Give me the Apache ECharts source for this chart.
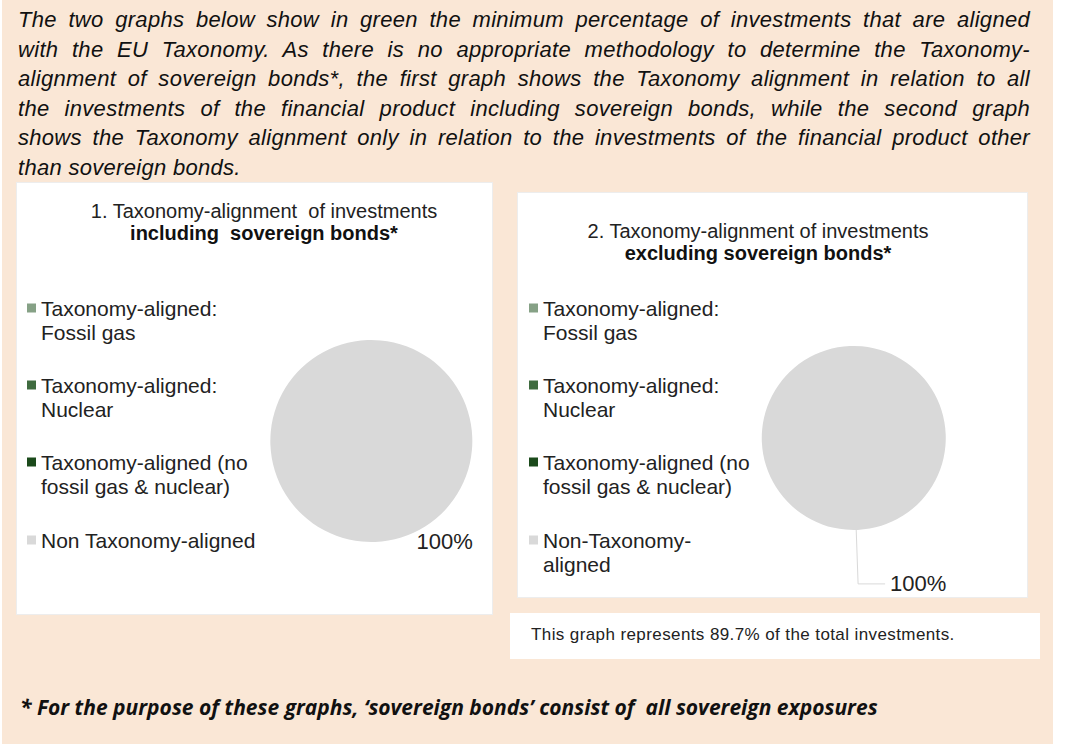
<!DOCTYPE html>
<html>
<head>
<meta charset="utf-8">
<title>Taxonomy alignment</title>
<script src="https://cdn.jsdelivr.net/npm/echarts@6/dist/echarts.min.js"></script>
<style>
  html, body { margin: 0; padding: 0; background: #fff; }
  .sheet { position: absolute; left: 2px; top: 0; width: 1051px; height: 744px; background: #FAE7D6; }
  .intro {
    position: absolute; left: 18px; top: 5px; width: 1012px;
    font: italic 22px "Liberation Sans", Arial, sans-serif; line-height: 29.6px; color: #111;
    letter-spacing: 0.3px;
  }
  .intro div { text-align: justify; text-align-last: justify; white-space: nowrap; }
  .intro div.last { text-align-last: left; }
  .panel { position: absolute; background: #fff; border: 1px solid #EDEDED; box-sizing: border-box; }
  #p1 { left: 16px; top: 182px; width: 477px; height: 433px; }
  #p2 { left: 517px; top: 192px; width: 511px; height: 406px; }
  .note {
    position: absolute; left: 510px; top: 613px; width: 530px; height: 46px; background: #fff;
    font: 17px "Liberation Sans", Arial, sans-serif; color: #222; letter-spacing: 0.4px;
  }
  .note span { position: absolute; left: 21px; top: 12px; }
  .foot {
    position: absolute; left: 20px; top: 693px; color: #111;
    font: italic bold 21px "Open Sans", Lato, sans-serif;
  }
  #chart { position: absolute; left: 0; top: 0; width: 1065px; height: 744px; }
</style>
</head>
<body>
<div class="sheet"></div>
<div class="intro">
  <div>The two graphs below show in green the minimum percentage of investments that are aligned</div>
  <div>with the EU Taxonomy. As there is no appropriate methodology to determine the Taxonomy-</div>
  <div>alignment of sovereign bonds*, the first graph shows the Taxonomy alignment in relation to all</div>
  <div>the investments of the financial product including sovereign bonds, while the second graph</div>
  <div>shows the Taxonomy alignment only in relation to the investments of the financial product other</div>
  <div class="last">than sovereign bonds.</div>
</div>
<div class="panel" id="p1"></div>
<div class="panel" id="p2"></div>
<div class="note"><span>This graph represents 89.7% of the total investments.</span></div>
<div class="foot">* For the purpose of these graphs, ‘sovereign bonds’ consist of&nbsp; all sovereign exposures</div>
<div id="chart"></div>

<script>
// data
const names1 = [
  "Taxonomy-aligned:\nFossil gas",
  "Taxonomy-aligned:\nNuclear",
  "Taxonomy-aligned (no\nfossil gas & nuclear)",
  "Non Taxonomy-aligned",
];
const names2 = [
  "Taxonomy-aligned:\nFossil gas",
  "Taxonomy-aligned:\nNuclear",
  "Taxonomy-aligned (no\nfossil gas & nuclear)",
  "Non-Taxonomy-\naligned",
];
const values1 = [0, 0, 0, 100];
const values2 = [0, 0, 0, 100];
const sliceColors = ["#86A186", "#3F6B3F", "#1B4A1B", "#D9D9D9"];

const FONT = '"Liberation Sans", Arial, sans-serif';
const LH = 24; // legend line height

// one legend per entry; a blank first line keeps the marker level with the first text line
function legendEntry(name, x, y) {
  const lines = name.split("\n").length;
  return {
    data: [name],
    orient: "vertical",
    left: x,
    top: lines > 1 ? y - 1.5 * LH : y - 0.5 * LH,
    padding: 0,
    itemWidth: 9,
    itemHeight: 9,
    icon: "rect",
    selectedMode: false,
    formatter: (n) => (n.indexOf("\n") >= 0 ? "\n" + n : n),
    textStyle: { fontFamily: FONT, fontSize: 21, color: "#222", lineHeight: LH },
  };
}

function pieSeries(names, values, center, r, len, len2, withLine) {
  return {
    type: "pie",
    center: center,
    radius: r,
    startAngle: 92,
    clockwise: true,
    silent: true,
    avoidLabelOverlap: false,
    data: names.map((n, i) => ({
      name: n,
      value: values[i],
      itemStyle: { color: sliceColors[i] },
      label: { show: values[i] > 0 },
      labelLine: { show: withLine && values[i] > 0 },
    })),
    label: {
      position: "outside",
      formatter: "{d}%",
      fontFamily: FONT,
      fontSize: 22,
      color: "#222",
      distanceToLabelLine: 5,
    },
    labelLine: {
      length: len,
      length2: len2,
      smooth: false,
      lineStyle: { color: "#D9D9D9", width: 1 },
    },
  };
}

const titleRich = {
  a: { fontFamily: FONT, fontSize: 20, fontWeight: "normal", color: "#222", lineHeight: 22 },
  b: { fontFamily: FONT, fontSize: 20, fontWeight: "bold", color: "#111", lineHeight: 22 },
};

const rows = [308, 385, 462, 540];
const legends = [];
names1.forEach((n, i) => legends.push(legendEntry(n, 27, rows[i])));
names2.forEach((n, i) => legends.push(legendEntry(n, 529, rows[i])));

const chart = echarts.init(document.getElementById("chart"), null, { renderer: "svg" });
chart.setOption({
  backgroundColor: "transparent",
  animation: false,
  title: [
    {
      text: "{a|1. Taxonomy-alignment  of investments}\n{b|including  sovereign bonds*}",
      left: 264,
      top: 200,
      textAlign: "center",
      padding: 0,
      textStyle: { rich: titleRich },
    },
    {
      text: "{a|2. Taxonomy-alignment of investments}\n{b|excluding sovereign bonds*}",
      left: 758,
      top: 220,
      textAlign: "center",
      padding: 0,
      textStyle: { rich: titleRich },
    },
  ],
  legend: legends,
  series: [
    pieSeries(names1, values1, [371, 441], 101, 0, 37, false),
    pieSeries(names2, values2, [853, 438], 92, 54, 27, true),
  ],
});
</script>
</body>
</html>
